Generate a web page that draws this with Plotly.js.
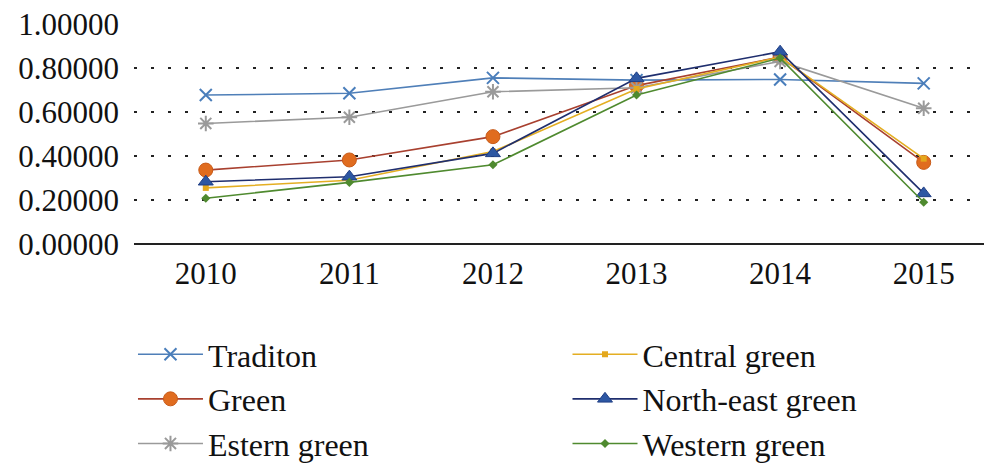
<!DOCTYPE html>
<html><head><meta charset="utf-8">
<script src="https://cdn.plot.ly/plotly-3.0.1.min.js"></script>
<style>html,body{margin:0;padding:0;background:#fff}#chart{width:984px;height:464px}</style>
</head><body><div id="chart"></div>
<script>
const years = ["2010","2011","2012","2013","2014","2015"];
const tradition = [0.677, 0.685, 0.755, 0.745, 0.748, 0.730];
const green = [0.336, 0.382, 0.488, 0.720, 0.850, 0.371];
const estern = [0.548, 0.576, 0.692, 0.710, 0.830, 0.617];
const central = [0.255, 0.290, 0.420, 0.705, 0.850, 0.388];
const northeast = [0.283, 0.306, 0.412, 0.753, 0.874, 0.230];
const western = [0.208, 0.280, 0.360, 0.677, 0.845, 0.190];
const yTicks = [0, 0.2, 0.4, 0.6, 0.8, 1.0];

function tr(name, y, lineColor, mk, legend, group) {
  return {x: years, y: y, name: name, type: 'scatter', mode: 'lines+markers',
    line: {color: lineColor, width: 1.6}, marker: mk, legend: legend, legendgroup: group, cliponaxis: false};
}
const data = [
  tr('Traditon', tradition, '#4f7fb8', {symbol: 'x-thin', size: 12, line: {color: '#4a7ebb', width: 2}}, 'legend', 'a'),
  tr('Green', green, '#a8402f', {symbol: 'circle', size: 14, color: '#e06c1f', line: {color: '#c85a18', width: 1}}, 'legend', 'b'),
  tr('Estern green', estern, '#9a9a9a', {symbol: 'asterisk', size: 13, line: {color: '#9a9a9a', width: 2}}, 'legend', 'c'),
  tr('Central green', central, '#e4ae22', {symbol: 'square', size: 6, color: '#e4a81c'}, 'legend2', 'd'),
  tr('North-east green', northeast, '#1f2e6e', {symbol: 'triangle-up', size: 13, color: '#2d57a3', line: {color: '#1f3e85', width: 1}}, 'legend2', 'e'),
  tr('Western green', western, '#4f8a2f', {symbol: 'diamond', size: 7, color: '#4f8a2f'}, 'legend2', 'f')
];
const fam = 'Liberation Serif';
const layout = {
  width: 984, height: 464,
  margin: {l: 134, r: 0, t: 24, b: 220, autoexpand: false},
  paper_bgcolor: '#fff', plot_bgcolor: '#fff',
  font: {family: fam, color: '#111', size: 31},
  showlegend: true,
  xaxis: {type: 'category', range: [-0.5, 5.42], showgrid: false, zeroline: false, automargin: false,
    showline: false, ticks: '', tickfont: {family: fam, size: 31, color: '#111'}, ticklabelstandoff: 8},
  yaxis: {range: [0, 1.0], tickvals: yTicks, tickformat: '.5f', showgrid: true, automargin: false,
    gridcolor: '#222', griddash: '3px,14px', gridwidth: 2, zeroline: true, zerolinecolor: '#222', zerolinewidth: 1.6,
    showline: false, ticks: '', tickfont: {family: fam, size: 31, color: '#111'}, ticklabelstandoff: 14},
  legend: {x: -0.0012, y: -0.377, xanchor: 'left', yanchor: 'top', orientation: 'v',
    font: {family: fam, size: 32, color: '#111'}, itemwidth: 65, tracegroupgap: 0, traceorder: 'grouped', bgcolor: 'rgba(0,0,0,0)'},
  legend2: {x: 0.51, y: -0.377, xanchor: 'left', yanchor: 'top', orientation: 'v',
    font: {family: fam, size: 32, color: '#111'}, itemwidth: 65, tracegroupgap: 0, traceorder: 'grouped', bgcolor: 'rgba(0,0,0,0)'}
};
Plotly.newPlot('chart', data, layout, {displayModeBar: false, staticPlot: true});
</script></body></html>
